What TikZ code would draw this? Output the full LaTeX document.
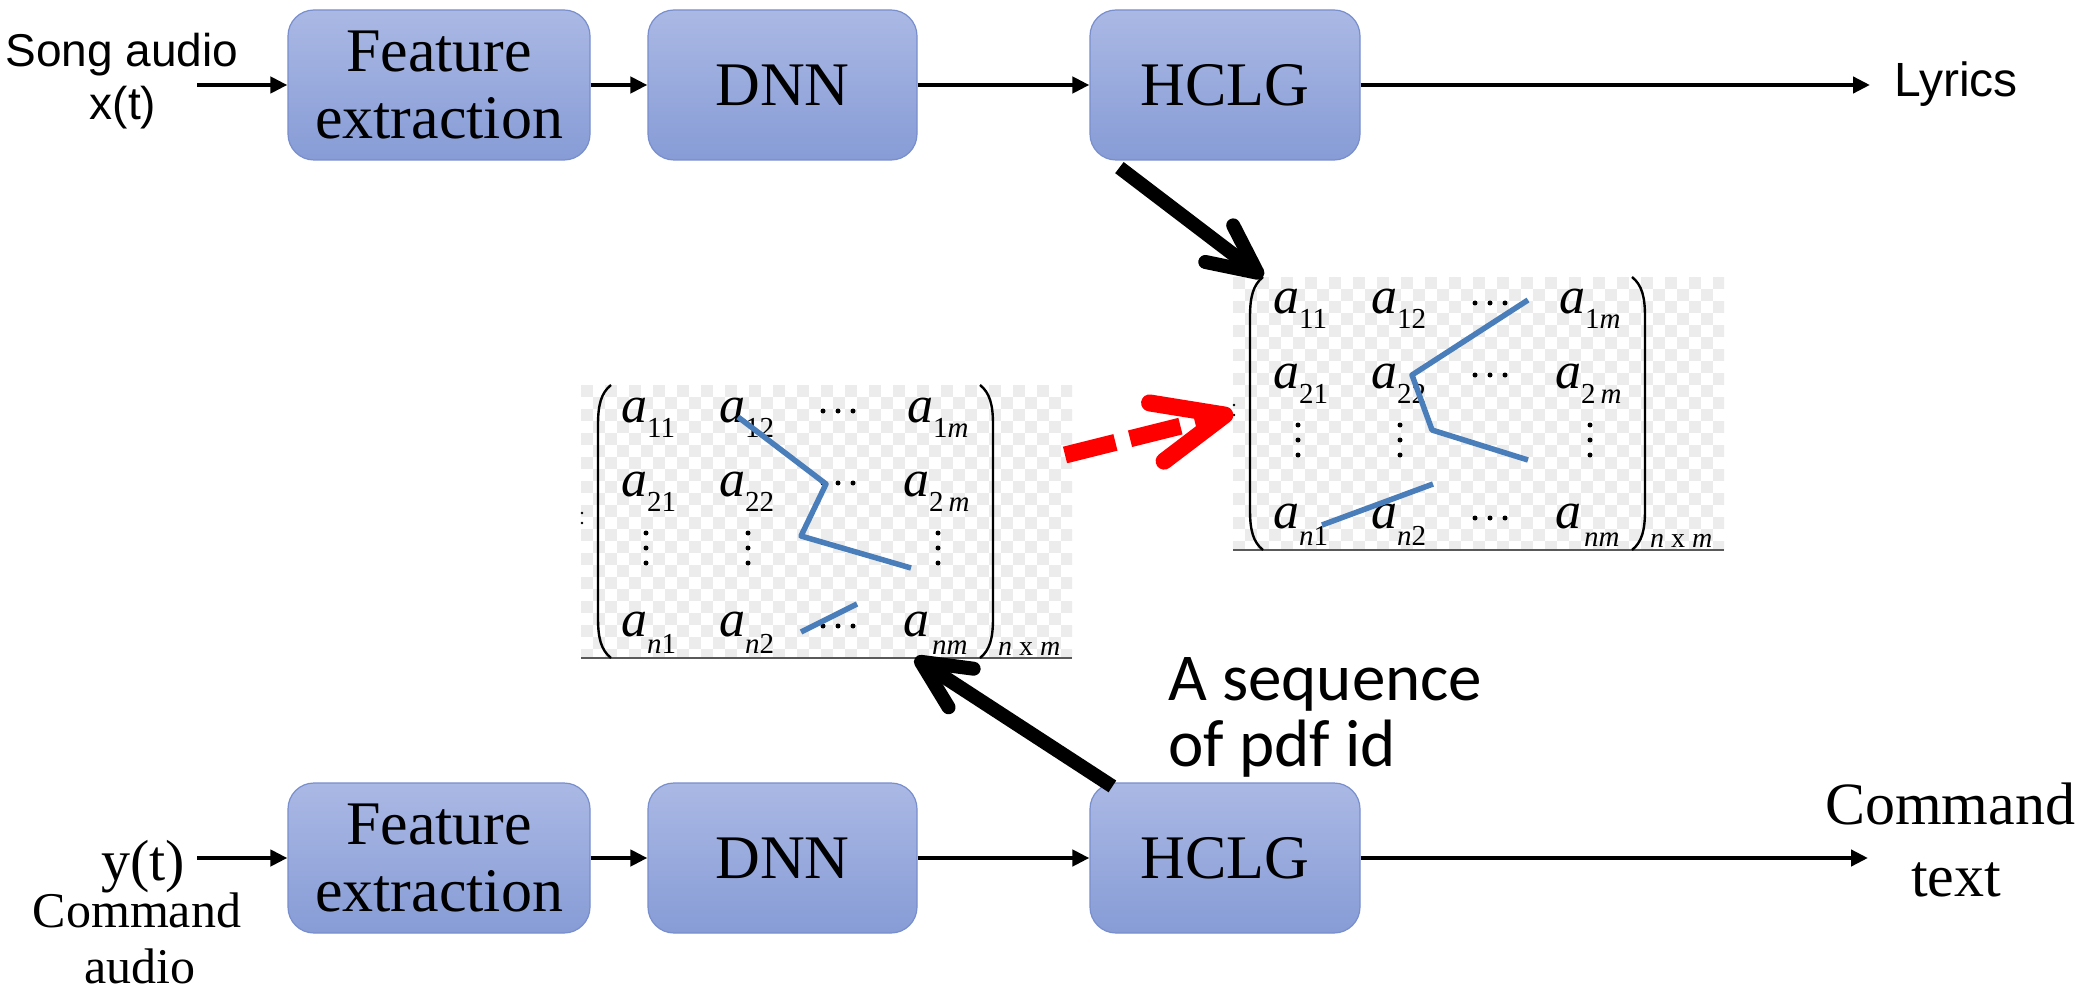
\documentclass[tikz,border=0pt]{standalone}
\usepackage{fontspec}
\setmainfont{Liberation Serif}
\newfontfamily\arialfam{Liberation Sans}
\newfontfamily\calfam{Carlito}
\usetikzlibrary{arrows.meta,calc}

\definecolor{boxtop}{RGB}{170,184,228}
\definecolor{boxbot}{RGB}{135,156,214}
\definecolor{boxedge}{RGB}{120,142,205}
\definecolor{trace}{RGB}{74,126,187}
\definecolor{checker}{RGB}{236,236,236}

% matrix entry: italic a with a lowered index
\newcommand\mentry[2][-15pt]{\textit{a}\raisebox{#1}{\fontsize{29}{29}\selectfont #2}}

\tikzset{
  blk/.style={rounded corners=26pt, draw=boxedge, line width=1.2pt,
    top color=boxtop, bottom color=boxbot, inner sep=0pt,
    minimum height=150pt, align=center, font=\fontsize{62}{67}\selectfont},
  conn/.style={line width=4.5pt, -{Triangle[length=17pt,width=16pt]}},
  bigarrow/.style={line width=14pt,
    -{Straight Barb[length=48pt,width=46pt,line cap=round,line join=round]}},
  redarrow/.style={red, line width=17pt, dash pattern=on 52pt off 15pt,
    -{Straight Barb[length=70pt,width=60pt,line cap=round,line join=round]}},
  ent/.style={anchor=base west, inner sep=0pt, font=\fontsize{52}{52}\selectfont},
  lbl/.style={anchor=base, inner sep=0pt},
  mtx/.pic={
    % checkered backdrop
    \begin{scope}
      \clip (-17,0) rectangle (474,273);
      \foreach \i in {0,...,40}{
        \foreach \j in {0,...,22}{
          \pgfmathtruncatemacro\chk{mod(\i+\j,2)}
          \ifnum\chk=0 \fill[checker] ({-17+12*\i},{12*\j}) rectangle ++(12,12);\fi
        }
      }
    \end{scope}
    \draw[line width=1.5pt, black!65] (-17,273) -- (474,273);
    % tiny colon at the left edge
    \fill (-16,128) circle (1.3);
    \fill (-16,138) circle (1.3);
    % parentheses
    \draw[line width=2.4pt] (13,0) .. controls (3,8) and (0,20) .. (0,40)
      -- (0,233) .. controls (0,253) and (3,265) .. (13,273);
    \draw[line width=2.4pt] (382,0) .. controls (392,8) and (395,20) .. (395,40)
      -- (395,233) .. controls (395,253) and (392,265) .. (382,273);
    % entries
    \node[ent] (-a11) at (23,37) {\mentry{11}};
    \node[ent] (-a12) at (121,37) {\mentry{12}};
    \node[ent] (-a1m) at (309,37) {\mentry{1\textit{m}}};
    \node[ent] (-a21) at (23,111) {\mentry{21}};
    \node[ent] (-a22) at (121,111) {\mentry{22}};
    \node[ent] (-a2m) at (305,111) {\mentry{2\,\textit{m}}};
    \node[ent] (-an1) at (23,251) {\mentry[-17pt]{\textit{n}1}};
    \node[ent] (-an2) at (121,251) {\mentry[-17pt]{\textit{n}2}};
    \node[ent] (-anm) at (305,251) {\mentry[-18pt]{\hspace{3pt}\textit{nm}}};
    \foreach \y in {26,98,241}{
      \foreach \d in {-15,0,15}{ \fill (240+\d,\y) circle (2.5); }
    }
    \foreach \x in {48,150,340}{
      \foreach \d in {-15,0,15}{ \fill (\x,163+\d) circle (2.5); }
    }
    \node[anchor=base west, inner sep=0pt, font=\fontsize{28}{28}\selectfont]
      (-dim) at (400,270) {\textit{n} x \textit{m}};
    % anchor points for the connectors
    \coordinate (-tl) at (13,0);
    \coordinate (-colon) at (-17,136);
    \coordinate (-br) at (317,273);
    \coordinate (-east) at (467,70);
  }
}

\begin{document}
\begin{tikzpicture}[x=1pt,y=-1pt]
\useasboundingbox (0,0) rectangle (2083,992);
\fill[white] (0,0) rectangle (2083,992);

% ---- upper pipeline: song audio ----
\node[blk, minimum width=302pt] (feA) at (439,85) {Feature\\extraction};
\node[blk, minimum width=269pt] (dnnA) at (782.5,85) {DNN};
\node[blk, minimum width=270pt] (hclgA) at (1225,85) {HCLG};
\node[lbl, font=\arialfam\fontsize{46}{46}\selectfont] (songA) at (122,67) {Song audio};
\node[lbl, font=\arialfam\fontsize{46}{46}\selectfont] (xt) at (123,120) {x(t)};
\node[lbl, font=\arialfam\fontsize{48}{48}\selectfont] (lyr) at (1956,97) {Lyrics};
\coordinate (inA) at (197,85);
\coordinate (outA) at (1870,85);
\draw[conn] (inA) -- (feA.west);
\draw[conn] (feA.east) -- (dnnA.west);
\draw[conn] (dnnA.east) -- (hclgA.west);
\draw[conn] (hclgA.east) -- (outA);

% ---- lower pipeline: command audio ----
\node[blk, minimum width=302pt] (feB) at (439,858) {Feature\\extraction};
\node[blk, minimum width=269pt] (dnnB) at (782.5,858) {DNN};
\node[blk, minimum width=270pt] (hclgB) at (1225,858) {HCLG};
\node[lbl, font=\fontsize{58}{58}\selectfont] (yt) at (143,880) {y(t)};
\node[lbl, font=\fontsize{50}{50}\selectfont] (cmdA) at (137,927) {Command};
\node[lbl, font=\fontsize{50}{50}\selectfont] (aud) at (140,983) {audio};
\node[lbl, font=\fontsize{60}{60}\selectfont] (cmdB) at (1950,824) {Command};
\node[lbl, font=\fontsize{60}{60}\selectfont] (txt) at (1956,896) {text};
\coordinate (inB) at (197,858);
\coordinate (outB) at (1868,858);
\draw[conn] (inB) -- (feB.west);
\draw[conn] (feB.east) -- (dnnB.west);
\draw[conn] (dnnB.east) -- (hclgB.west);
\draw[conn] (hclgB.east) -- (outB);

% ---- posterior matrices ----
\pic (L) at (598,385) {mtx};
\pic (R) at (1250,277) {mtx};

% best paths through the matrices
\begin{scope}[shift={(598,385)}]
  \draw[trace, line width=5.5pt, line join=round]
    (140,32) -- (228,99) -- (203,151) -- (313,183);
  \draw[trace, line width=5.5pt] (203,247) -- (259,219);
\end{scope}
\begin{scope}[shift={(1250,277)}]
  \draw[trace, line width=5.5pt, line join=round]
    (278,23) -- (162,98) -- (182,153) -- (278,183);
  \draw[trace, line width=5.5pt] (72,248) -- (183,207);
\end{scope}

% ---- connectors between pipelines and matrices ----
\coordinate (hclgAout) at ($(hclgA.south west)+(30,7)$);
\coordinate (hclgBout) at ($(hclgB.north west)+(23,4)$);
\draw[bigarrow] (hclgAout) -- (R-tl);
\draw[bigarrow] (hclgBout) -- (L-br);
\draw[redarrow] (L-east) -- (R-colon);

\node[anchor=base west, inner sep=0pt, font=\calfam\fontsize{67}{67}\selectfont]
  (seqA) at (1168,700) {A sequence};
\node[anchor=base west, inner sep=0pt, font=\calfam\fontsize{67}{67}\selectfont]
  (seqB) at (1168,766) {of pdf id};
\end{tikzpicture}
\end{document}
